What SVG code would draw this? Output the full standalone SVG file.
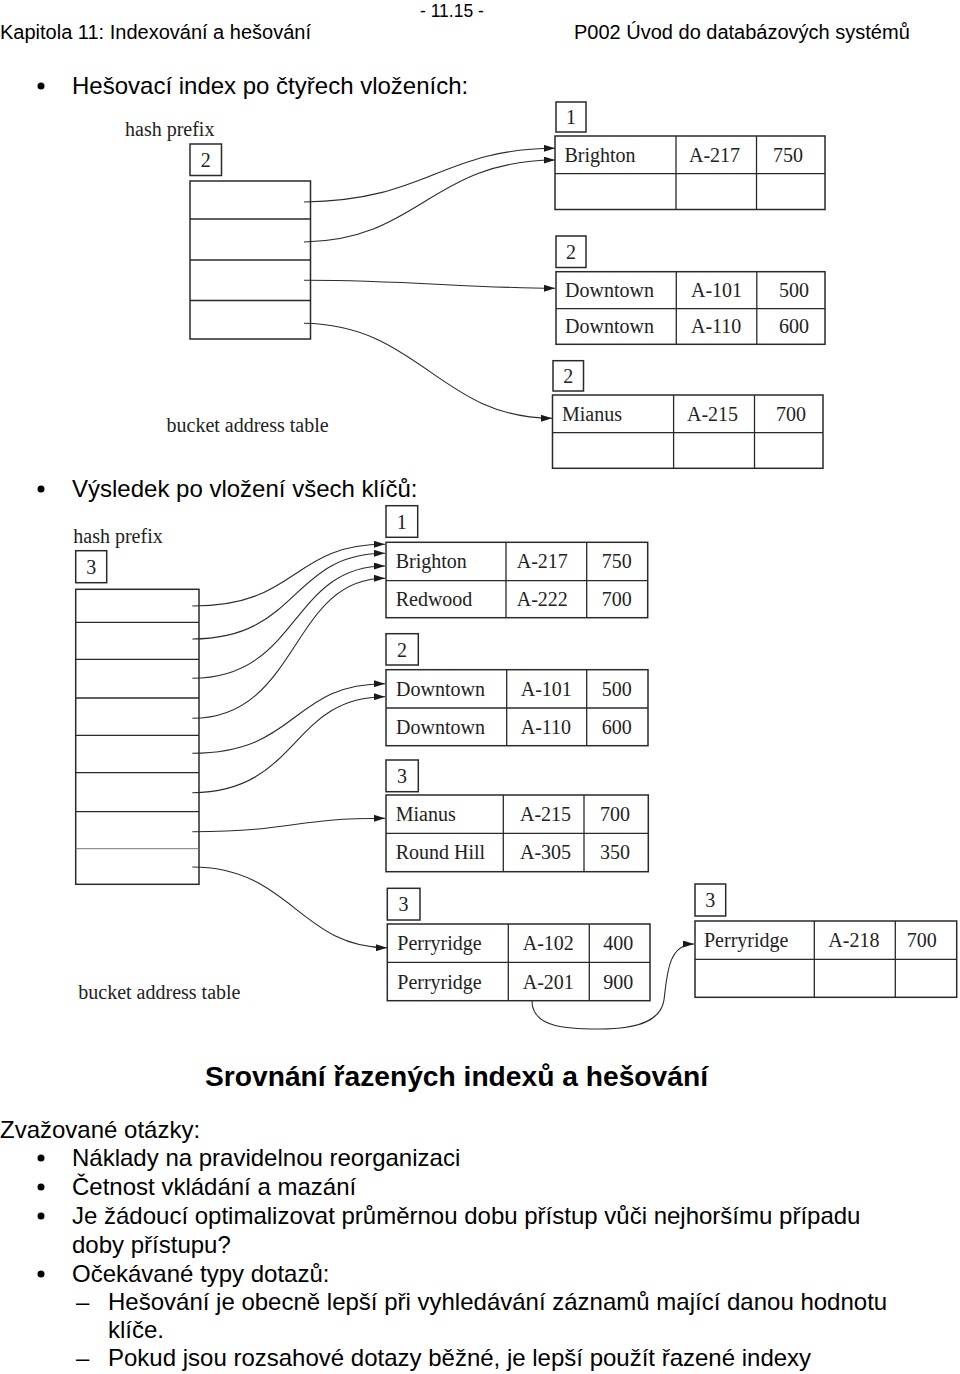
<svg xmlns="http://www.w3.org/2000/svg" width="960" height="1374" viewBox="0 0 960 1374">
<style>
.s{font-family:"Liberation Sans",Arial,sans-serif;fill:#000}
.h{font-size:20px}
.b{font-size:24px}
.t{font-family:"Liberation Serif","Times New Roman",serif;font-size:20px;fill:#222}
.box{fill:none;stroke:#2a2a2a;stroke-width:1.5}
.ln{stroke:#2a2a2a;stroke-width:1.3}
.c{fill:none;stroke:#2a2a2a;stroke-width:1.1}
.dot{fill:#000}
</style>
<defs>
<marker id="ah" markerUnits="userSpaceOnUse" markerWidth="11" markerHeight="7" refX="11" refY="3.5" orient="auto">
<path d="M0,0 L11,3.5 L0,7 z" fill="#1a1a1a"/>
</marker>
</defs>
<rect width="960" height="1374" fill="#fff"/>

<g id="header">
<text class="s" x="420" y="17" font-size="17.5">- 11.15 -</text>
<text class="s h" x="0" y="39">Kapitola 11: Indexování a hešování</text>
<text class="s h" x="574" y="39">P002 Úvod do databázových systémů</text>
</g>

<g id="bullet1">
<circle class="dot" cx="41" cy="86" r="3.5"/>
<text class="s b" x="72" y="94">Hešovací index po čtyřech vloženích:</text>
</g>

<!-- Diagram 1 -->
<g id="d1-table">
<text class="t" x="125" y="136">hash prefix</text>
<rect class="box" x="190" y="144" width="31.5" height="31.5"/>
<text class="t" x="205.7" y="167" text-anchor="middle">2</text>
<rect class="box" x="190" y="181" width="120.5" height="158"/>
<line class="ln" x1="190" y1="219" x2="310.5" y2="219"/>
<line class="ln" x1="190" y1="260" x2="310.5" y2="260"/>
<line class="ln" x1="190" y1="300.5" x2="310.5" y2="300.5"/>
<text class="t" x="166.5" y="432">bucket address table</text>
</g>

<g id="d1-bucket1">
<rect class="box" x="556" y="102" width="30" height="30"/>
<text class="t" x="571" y="124" text-anchor="middle">1</text>
<rect class="box" x="555" y="136" width="270" height="73.5"/>
<line class="ln" x1="555" y1="173.7" x2="825" y2="173.7"/>
<line class="ln" x1="676" y1="136" x2="676" y2="209.5"/>
<line class="ln" x1="756.5" y1="136" x2="756.5" y2="209.5"/>
<text class="t" x="564.5" y="161.5">Brighton</text>
<text class="t" x="689" y="161.5">A-217</text>
<text class="t" x="773" y="161.5">750</text>
</g>

<g id="d1-bucket2">
<rect class="box" x="556" y="236" width="30" height="31.5"/>
<text class="t" x="571" y="259" text-anchor="middle">2</text>
<rect class="box" x="556" y="271.7" width="269" height="72.6"/>
<line class="ln" x1="556" y1="308.7" x2="825" y2="308.7"/>
<line class="ln" x1="676.3" y1="271.7" x2="676.3" y2="344.3"/>
<line class="ln" x1="756.8" y1="271.7" x2="756.8" y2="344.3"/>
<text class="t" x="565" y="297">Downtown</text>
<text class="t" x="691" y="297">A-101</text>
<text class="t" x="779" y="297">500</text>
<text class="t" x="565" y="333">Downtown</text>
<text class="t" x="691" y="333">A-110</text>
<text class="t" x="779" y="333">600</text>
</g>

<g id="d1-bucket3">
<rect class="box" x="553" y="360.7" width="30.5" height="30.3"/>
<text class="t" x="568.2" y="383" text-anchor="middle">2</text>
<rect class="box" x="552.5" y="395" width="270.5" height="73.3"/>
<line class="ln" x1="552.5" y1="432.7" x2="823" y2="432.7"/>
<line class="ln" x1="673.6" y1="395" x2="673.6" y2="468.3"/>
<line class="ln" x1="754.5" y1="395" x2="754.5" y2="468.3"/>
<text class="t" x="562" y="420.5">Mianus</text>
<text class="t" x="687" y="420.5">A-215</text>
<text class="t" x="776" y="420.5">700</text>
</g>

<g id="d1-connectors">
<path class="c" d="M304,202 C430,200 440,149 555,148.3" marker-end="url(#ah)"/>
<path class="c" d="M304,242 C420,240 430,161 555,160" marker-end="url(#ah)"/>
<path class="c" d="M304,280.3 C400,280 470,288 555,288.3" marker-end="url(#ah)"/>
<path class="c" d="M304,323.3 C420,325 440,418 552,418.3" marker-end="url(#ah)"/>
</g>

<g id="bullet2">
<circle class="dot" cx="41" cy="489" r="3.5"/>
<text class="s b" x="72" y="497">Výsledek po vložení všech klíčů:</text>
</g>

<!-- Diagram 2 -->
<g id="d2-table">
<text class="t" x="73.3" y="543">hash prefix</text>
<rect class="box" x="75.7" y="550.7" width="31" height="32"/>
<text class="t" x="91.2" y="574" text-anchor="middle">3</text>
<rect class="box" x="75.7" y="589.3" width="123.3" height="295"/>
<line class="ln" x1="75.7" y1="622.3" x2="199" y2="622.3"/>
<line class="ln" x1="75.7" y1="659.3" x2="199" y2="659.3"/>
<line class="ln" x1="75.7" y1="698" x2="199" y2="698"/>
<line class="ln" x1="75.7" y1="735.3" x2="199" y2="735.3"/>
<line class="ln" x1="75.7" y1="772.7" x2="199" y2="772.7"/>
<line class="ln" x1="75.7" y1="811.7" x2="199" y2="811.7"/>
<line x1="75.7" y1="848.7" x2="199" y2="848.7" stroke="#777" stroke-width="1"/>
<text class="t" x="78.3" y="999">bucket address table</text>
</g>

<g id="d2-bucket1">
<rect class="box" x="386" y="505.7" width="31.7" height="31.6"/>
<text class="t" x="401.8" y="528.5" text-anchor="middle">1</text>
<rect class="box" x="386" y="542.3" width="261.7" height="75.4"/>
<line class="ln" x1="386" y1="580.7" x2="647.7" y2="580.7"/>
<line class="ln" x1="506" y1="542.3" x2="506" y2="617.7"/>
<line class="ln" x1="586.7" y1="542.3" x2="586.7" y2="617.7"/>
<text class="t" x="395.7" y="568">Brighton</text>
<text class="t" x="516.7" y="568">A-217</text>
<text class="t" x="601.7" y="568">750</text>
<text class="t" x="395.7" y="605.5">Redwood</text>
<text class="t" x="516.7" y="605.5">A-222</text>
<text class="t" x="601.7" y="605.5">700</text>
</g>

<g id="d2-bucket2">
<rect class="box" x="386" y="633.7" width="32.3" height="31.3"/>
<text class="t" x="402.1" y="656.5" text-anchor="middle">2</text>
<rect class="box" x="386" y="669.7" width="262" height="76"/>
<line class="ln" x1="386" y1="708" x2="648" y2="708"/>
<line class="ln" x1="506.7" y1="669.7" x2="506.7" y2="745.7"/>
<line class="ln" x1="586.7" y1="669.7" x2="586.7" y2="745.7"/>
<text class="t" x="396" y="695.5">Downtown</text>
<text class="t" x="520.7" y="695.5">A-101</text>
<text class="t" x="601.7" y="695.5">500</text>
<text class="t" x="396" y="733.5">Downtown</text>
<text class="t" x="520.7" y="733.5">A-110</text>
<text class="t" x="601.7" y="733.5">600</text>
</g>

<g id="d2-bucket3">
<rect class="box" x="386" y="760" width="32.3" height="31.7"/>
<text class="t" x="402.1" y="783" text-anchor="middle">3</text>
<rect class="box" x="386" y="795" width="262.3" height="76.7"/>
<line class="ln" x1="386" y1="833.3" x2="648.3" y2="833.3"/>
<line class="ln" x1="503.3" y1="795" x2="503.3" y2="871.7"/>
<line class="ln" x1="584" y1="795" x2="584" y2="871.7"/>
<text class="t" x="395.7" y="821">Mianus</text>
<text class="t" x="520" y="821">A-215</text>
<text class="t" x="600" y="821">700</text>
<text class="t" x="395.7" y="859">Round Hill</text>
<text class="t" x="520" y="859">A-305</text>
<text class="t" x="600" y="859">350</text>
</g>

<g id="d2-bucket4">
<rect class="box" x="387.3" y="888.3" width="32.7" height="31.7"/>
<text class="t" x="403.6" y="911" text-anchor="middle">3</text>
<rect class="box" x="387.3" y="924" width="262.7" height="76.7"/>
<line class="ln" x1="387.3" y1="962.3" x2="650" y2="962.3"/>
<line class="ln" x1="508.3" y1="924" x2="508.3" y2="1000.7"/>
<line class="ln" x1="589.3" y1="924" x2="589.3" y2="1000.7"/>
<text class="t" x="397.3" y="950">Perryridge</text>
<text class="t" x="522.7" y="950">A-102</text>
<text class="t" x="603.3" y="950">400</text>
<text class="t" x="397.3" y="988.5">Perryridge</text>
<text class="t" x="522.7" y="988.5">A-201</text>
<text class="t" x="603.3" y="988.5">900</text>
</g>

<g id="d2-bucket5">
<rect class="box" x="695" y="884" width="30.7" height="32"/>
<text class="t" x="710.3" y="907" text-anchor="middle">3</text>
<rect class="box" x="695" y="921" width="261.7" height="76.3"/>
<line class="ln" x1="695" y1="959.3" x2="956.7" y2="959.3"/>
<line class="ln" x1="814.3" y1="921" x2="814.3" y2="997.3"/>
<line class="ln" x1="895.3" y1="921" x2="895.3" y2="997.3"/>
<text class="t" x="704" y="947">Perryridge</text>
<text class="t" x="828.3" y="947">A-218</text>
<text class="t" x="906.7" y="947">700</text>
</g>

<g id="d2-connectors">
<path class="c" d="M192.3,606 C300,606 290,544.3 385,544.3" marker-end="url(#ah)"/>
<path class="c" d="M192.3,639 C300,639 290,553.3 385,553.3" marker-end="url(#ah)"/>
<path class="c" d="M192.3,678.3 C300,678 290,566 385,566" marker-end="url(#ah)"/>
<path class="c" d="M192.3,718.3 C300,718 290,578.3 385,578.3" marker-end="url(#ah)"/>
<path class="c" d="M192.3,753.3 C300,753 290,683.7 385,683.7" marker-end="url(#ah)"/>
<path class="c" d="M192.3,792.7 C300,792 290,696.7 385,696.7" marker-end="url(#ah)"/>
<path class="c" d="M192.3,831.7 C300,831 290,818.3 385,818.3" marker-end="url(#ah)"/>
<path class="c" d="M192.3,867 C290,867 300,947.7 387,947.7" marker-end="url(#ah)"/>
<path class="c" d="M532,1001 C532,1030 575,1029 600,1029 C640,1029 661,1020 664,1000 C667,975 668,944 694,944" marker-end="url(#ah)"/>
</g>

<g id="section">
<text class="s" x="205" y="1086" font-size="28" font-weight="bold" textLength="503" lengthAdjust="spacingAndGlyphs">Srovnání řazených indexů a hešování</text>
<text class="s b" x="0" y="1138">Zvažované otázky:</text>
<circle class="dot" cx="41" cy="1158" r="3.5"/>
<text class="s b" x="72" y="1166">Náklady na pravidelnou reorganizaci</text>
<circle class="dot" cx="41" cy="1187" r="3.5"/>
<text class="s b" x="72" y="1195">Četnost vkládání a mazání</text>
<circle class="dot" cx="41" cy="1216" r="3.5"/>
<text class="s b" x="72" y="1224">Je žádoucí optimalizovat průměrnou dobu přístup vůči nejhoršímu případu</text>
<text class="s b" x="72" y="1253">doby přístupu?</text>
<circle class="dot" cx="41" cy="1274" r="3.5"/>
<text class="s b" x="72" y="1282">Očekávané typy dotazů:</text>
<text class="s b" x="76" y="1310">–</text>
<text class="s b" x="108" y="1310">Hešování je obecně lepší při vyhledávání záznamů mající danou hodnotu</text>
<text class="s b" x="108" y="1338">klíče.</text>
<text class="s b" x="76" y="1366">–</text>
<text class="s b" x="108" y="1366">Pokud jsou rozsahové dotazy běžné, je lepší použít řazené indexy</text>
</g>
</svg>
